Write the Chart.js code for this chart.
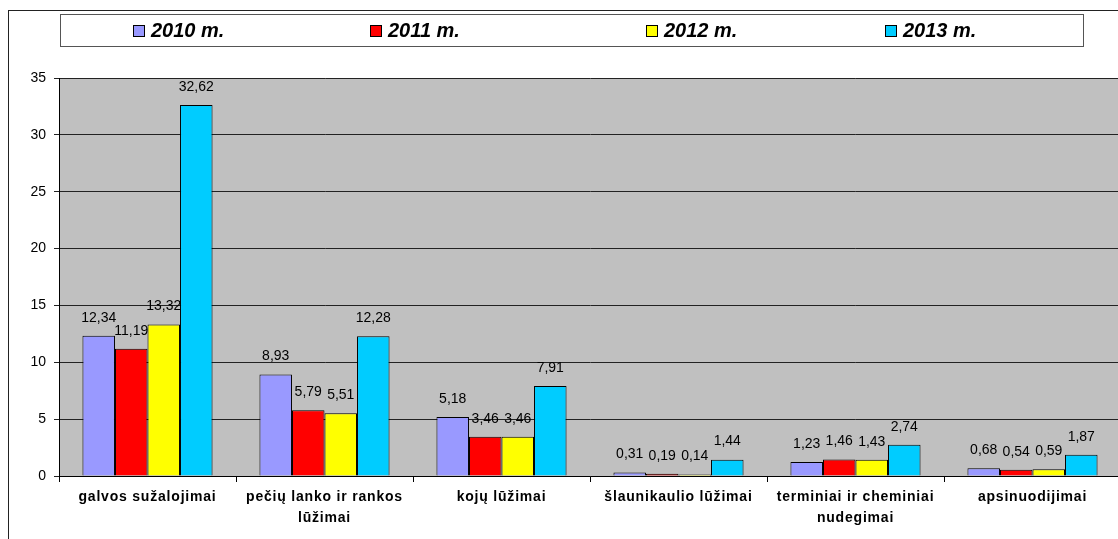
<!DOCTYPE html>
<html>
<head>
<meta charset="utf-8">
<script src="https://cdn.jsdelivr.net/npm/chart.js@4/dist/chart.umd.min.js"></script>
<style>
  html, body { margin: 0; padding: 0; background: #fff; overflow: hidden; }
  #wrap { position: relative; width: 1118px; height: 539px; overflow: hidden; }
  #frame { position: absolute; left: 8px; top: 10px; width: 1200px; height: 600px; border: 1px solid #222; }
  #holder { position: absolute; left: 0; top: 0; width: 1130px; height: 539px; }
</style>
</head>
<body>
<div id="wrap">
  <div id="frame"></div>
  <div id="holder"><canvas id="chart"></canvas></div>
</div>
<script>
const categories = [
  'galvos sužalojimai',
  ['pečių lanko ir rankos', 'lūžimai'],
  'kojų lūžimai',
  'šlaunikaulio lūžimai',
  ['terminiai ir cheminiai', 'nudegimai'],
  'apsinuodijimai'
]
const seriesNames = ['2010 m.', '2011 m.', '2012 m.', '2013 m.']
const values2010 = [12.34, 8.93, 5.18, 0.31, 1.23, 0.68]
const values2011 = [11.19, 5.79, 3.46, 0.19, 1.46, 0.54]
const values2012 = [13.32, 5.51, 3.46, 0.14, 1.43, 0.59]
const values2013 = [32.62, 12.28, 7.91, 1.44, 2.74, 1.87]
const yTicks = [0, 5, 10, 15, 20, 25, 30, 35]

const colors = ['#9999FF', '#FF0000', '#FFFF00', '#00CCFF']
const legendX = [133, 370, 646, 885]

// grey plot background
const plotBg = {
  id: 'plotBg',
  beforeDraw(chart) {
    const a = chart.chartArea
    const ctx = chart.ctx
    ctx.save()
    ctx.fillStyle = '#C0C0C0'
    ctx.fillRect(a.left, a.top, a.right - a.left, a.bottom - a.top)
    ctx.restore()
  }
}

// spread out the x labels a bit like the original
const spacedLabels = {
  id: 'spacedLabels',
  afterLayout(chart) {
    const s = chart.scales.x
    if (s._spaced) return
    const orig = s.drawLabels.bind(s)
    s.drawLabels = function(area) {
      chart.ctx.save()
      chart.ctx.letterSpacing = '0.8px'
      orig(area)
      chart.ctx.restore()
    }
    s._spaced = true
  }
}

// value labels above the bars, with comma decimals
const valueLabels = {
  id: 'valueLabels',
  afterDatasetsDraw(chart) {
    const ctx = chart.ctx
    ctx.save()
    ctx.font = '14px Arial, "Liberation Sans"'
    ctx.fillStyle = '#000'
    ctx.textAlign = 'center'
    ctx.textBaseline = 'middle'
    chart.data.datasets.forEach(function(ds, i) {
      chart.getDatasetMeta(i).data.forEach(function(bar, j) {
        let txt = ds.data[j].toFixed(2).replace('.', ',')
        ctx.fillText(txt, bar.x, bar.y - 18)
      })
    })
    ctx.restore()
  }
}

// boxed legend at the top
const boxLegend = {
  id: 'boxLegend',
  afterDraw(chart) {
    const ctx = chart.ctx
    ctx.save()
    ctx.fillStyle = '#fff'
    ctx.fillRect(60.5, 14.5, 1023, 32)
    ctx.strokeStyle = '#555'
    ctx.lineWidth = 1
    ctx.strokeRect(60.5, 14.5, 1023, 32)
    ctx.font = 'italic bold 20px Arial, "Liberation Sans"'
    ctx.textBaseline = 'middle'
    chart.data.datasets.forEach(function(ds, i) {
      let x = legendX[i]
      ctx.fillStyle = ds.backgroundColor
      ctx.fillRect(x + 0.5, 25.5, 11, 11)
      ctx.strokeStyle = '#000'
      ctx.strokeRect(x + 0.5, 25.5, 11, 11)
      ctx.fillStyle = '#000'
      ctx.fillText(ds.label, x + 18, 31)
    })
    ctx.restore()
  }
}

const data = {
  labels: categories,
  datasets: [values2010, values2011, values2012, values2013].map(function(v, i) {
    return {
      label: seriesNames[i],
      data: v,
      backgroundColor: colors[i],
      borderColor: '#000',
      borderWidth: 1,
      barPercentage: 1,
      categoryPercentage: 0.735
    }
  })
}

const config = {
  type: 'bar',
  data: data,
  options: {
    responsive: false,
    animation: false,
    devicePixelRatio: 1,
    layout: { padding: { left: 0, top: 78, right: 9, bottom: 0 } },
    plugins: {
      legend: { display: false },
      tooltip: { enabled: false }
    },
    scales: {
      x: {
        afterFit(scale) { scale.height = 63 },
        grid: { offset: true, drawOnChartArea: false, tickLength: 6, color: '#000' },
        border: { color: '#000' },
        ticks: {
          color: '#000',
          padding: 5,
          font: { family: 'Arial, "Liberation Sans"', size: 14, weight: 'bold', lineHeight: 1.5 }
        }
      },
      y: {
        min: 0,
        max: 35,
        afterFit(scale) { scale.width = 59 },
        afterBuildTicks(scale) { scale.ticks = yTicks.map(v => ({ value: v })) },
        grid: { color: '#222', tickLength: 5 },
        border: { color: '#000' },
        ticks: {
          color: '#000',
          padding: 8,
          font: { family: 'Arial, "Liberation Sans"', size: 14 }
        }
      }
    }
  },
  plugins: [plotBg, spacedLabels, valueLabels, boxLegend]
}

const canvas = document.getElementById('chart')
canvas.width = 1130
canvas.height = 539
const mainChart = new Chart(canvas, config)
</script>
</body>
</html>
